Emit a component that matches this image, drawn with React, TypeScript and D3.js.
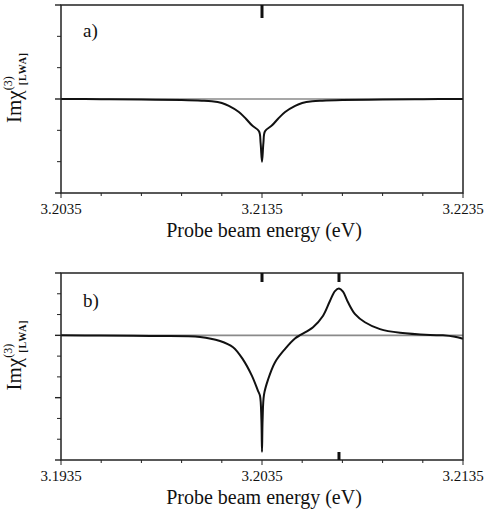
import React, { useEffect, useRef } from "react";
import * as d3 from "d3";

// panel a) energies (eV) and Im chi values (arb. units, read off the picture)
const energyA = [
  3.2035, 3.2055, 3.2075, 3.2095, 3.2105, 3.211, 3.2115, 3.21185, 3.21235, 3.2127, 3.213, 3.21335,
  3.21343, 3.2135, 3.21357, 3.21365, 3.214, 3.2143, 3.21465, 3.21515, 3.2155, 3.216, 3.2165,
  3.2175, 3.2195, 3.2215, 3.2235
];
const valueA = [
  0, -0.006, -0.015, -0.035, -0.055, -0.075, -0.13, -0.22, -0.415, -0.63, -0.84, -1.03,
  -1.4, -2.0, -1.4, -1.03, -0.84, -0.63, -0.415, -0.22, -0.13, -0.075, -0.055,
  -0.035, -0.015, -0.006, 0
];

// panel b)
const energyB = [
  3.1935, 3.19544, 3.19793, 3.20042, 3.20141, 3.20206, 3.20255, 3.203, 3.2033, 3.2034, 3.20347,
  3.2035, 3.20353, 3.2036, 3.2038, 3.20415, 3.20464, 3.20514, 3.20544, 3.20604, 3.20653, 3.20688,
  3.20713, 3.20733, 3.20753, 3.20778, 3.20813, 3.20862, 3.20937, 3.21037, 3.21186, 3.2125, 3.2131,
  3.2135
];
const valueB = [
  0, -0.003, -0.01, -0.025, -0.09, -0.19, -0.385, -0.65, -0.89, -0.97, -1.35,
  -1.87, -1.35, -0.95, -0.71, -0.43, -0.22, -0.05, 0.01, 0.13, 0.31, 0.55,
  0.71, 0.75, 0.7, 0.53, 0.34, 0.21, 0.1, 0.04, 0.005, 0, -0.024,
  -0.056
];

const tickLabelsA = ["3.2035", "3.2135", "3.2235"];
const tickLabelsB = ["3.1935", "3.2035", "3.2135"];
const topMarksA = [3.2135];
const topMarksB = [3.2035, 3.20733];
const bottomMarksB = [3.20733];

const W = 486;
const H = 510;
const FONT = "Liberation Serif, DejaVu Serif, serif";

type PanelCfg = {
  top: number;
  bottom: number;
  energy: number[];
  value: number[];
  xLabels: string[];
  yDomain: [number, number];
  yStep: number;
  majorEvery: number;
  topMarks: number[];
  topLen: number;
  bottomMarks: number[];
  tag: string;
  tagY: number;
};

const App = () => {
  const svgRef = useRef<SVGSVGElement>(null);

  useEffect(() => {
    const svg = d3.select(svgRef.current);
    svg.selectAll("*").remove();

    const left = 61;
    const right = 463;

    const panels: PanelCfg[] = [
      {
        top: 5, bottom: 193, energy: energyA, value: valueA, xLabels: tickLabelsA,
        yDomain: [-3, 3], yStep: 1, majorEvery: 3, topMarks: topMarksA, topLen: 13,
        bottomMarks: [], tag: "a)", tagY: 37
      },
      {
        top: 273, bottom: 460, energy: energyB, value: valueB, xLabels: tickLabelsB,
        yDomain: [-2, 1], yStep: 1 / 3, majorEvery: 3, topMarks: topMarksB, topLen: 9,
        bottomMarks: bottomMarksB, tag: "b)", tagY: 307
      }
    ];

    panels.forEach(p => {
      const x0 = +p.xLabels[0];
      const x1 = +p.xLabels[2];
      const x = d3.scaleLinear().domain([x0, x1]).range([left, right]);
      const y = d3.scaleLinear().domain(p.yDomain).range([p.bottom, p.top]);
      const g = svg.append("g").style("font-family", FONT);

      // left ticks (outward)
      const nY = Math.round((p.yDomain[1] - p.yDomain[0]) / p.yStep);
      d3.range(nY + 1).forEach(i => {
        const v = p.yDomain[0] + i * p.yStep;
        const major = i % p.majorEvery === 0;
        g.append("line")
          .attr("x1", left - (major ? 6 : 4)).attr("x2", left)
          .attr("y1", y(v)).attr("y2", y(v))
          .attr("stroke", "#222").attr("stroke-width", major ? 1.4 : 1);
      });

      // bottom ticks (outward)
      d3.range(11).forEach(i => {
        const v = x0 + i * (x1 - x0) / 10;
        const major = i % 5 === 0;
        g.append("line")
          .attr("x1", x(v)).attr("x2", x(v))
          .attr("y1", p.bottom).attr("y2", p.bottom + (major ? 5 : 3))
          .attr("stroke", "#222").attr("stroke-width", 1);
      });

      // zero line
      g.append("line")
        .attr("x1", left).attr("x2", right)
        .attr("y1", y(0)).attr("y2", y(0))
        .attr("stroke", "#8a8a8a").attr("stroke-width", 1.6);

      // curve
      const line = d3.line<number>()
        .x((_, i) => x(p.energy[i]))
        .y(d => y(d))
        .curve(d3.curveCatmullRom.alpha(0.5));
      g.append("path")
        .attr("d", line(p.value))
        .attr("fill", "none")
        .attr("stroke", "#111")
        .attr("stroke-width", 2)
        .attr("stroke-linejoin", "round");

      // frame
      g.append("rect")
        .attr("x", left).attr("y", p.top)
        .attr("width", right - left).attr("height", p.bottom - p.top)
        .attr("fill", "none").attr("stroke", "#222").attr("stroke-width", 1.5);

      // resonance markers
      p.topMarks.forEach(m => {
        g.append("line")
          .attr("x1", x(m)).attr("x2", x(m))
          .attr("y1", p.top).attr("y2", p.top + p.topLen)
          .attr("stroke", "#111").attr("stroke-width", 3);
      });
      p.bottomMarks.forEach(m => {
        g.append("line")
          .attr("x1", x(m)).attr("x2", x(m))
          .attr("y1", p.bottom).attr("y2", p.bottom - 8)
          .attr("stroke", "#111").attr("stroke-width", 3);
      });

      // tick labels
      p.xLabels.forEach(lbl => {
        g.append("text")
          .attr("x", x(+lbl)).attr("y", p.bottom + 21)
          .attr("text-anchor", "middle")
          .attr("font-size", 15)
          .attr("fill", "#111")
          .text(lbl);
      });

      // x title
      g.append("text")
        .attr("x", (left + right) / 2 + 2).attr("y", p.bottom + 44)
        .attr("text-anchor", "middle")
        .attr("font-size", 20)
        .attr("fill", "#111")
        .text("Probe beam energy (eV)");

      // panel tag
      g.append("text")
        .attr("x", left + 22).attr("y", p.tagY)
        .attr("font-size", 19)
        .attr("fill", "#111")
        .text(p.tag);

      // y title
      const yt = g.append("text")
        .attr("transform", `translate(21,${(p.top + p.bottom) / 2 + 24}) rotate(-90)`)
        .attr("font-size", 21)
        .attr("fill", "#111");
      yt.append("tspan").text("Imχ");
      yt.append("tspan").attr("font-size", 12).attr("dy", -9).text("(3)");
      yt.append("tspan").attr("font-size", 10).attr("font-weight", "bold")
        .attr("dx", -9).attr("dy", 14)
        .attr("letter-spacing", 1).text("[LWA]");
    });
  }, []);

  return (
    <svg
      ref={svgRef}
      width={W}
      height={H}
      style={{ position: "absolute", left: 0, top: 0, background: "#fff" }}
    />
  );
};

export default App;
